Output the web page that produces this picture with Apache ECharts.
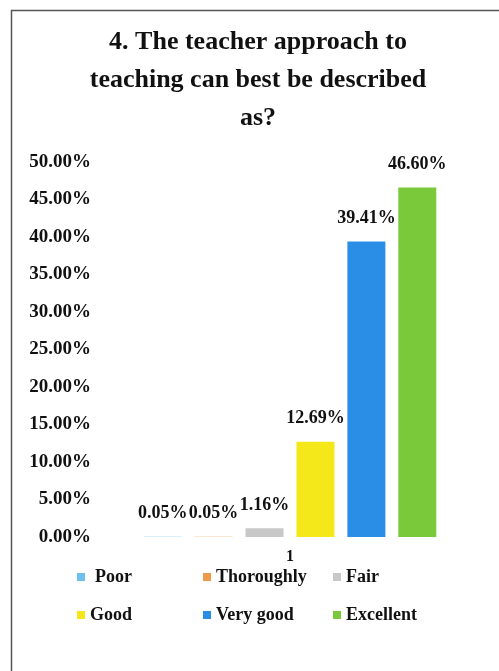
<!DOCTYPE html>
<html>
<head>
<meta charset="utf-8">
<title>Teacher approach</title>
<script src="https://cdn.jsdelivr.net/npm/echarts@6/dist/echarts.min.js"></script>
<style>
  html, body { margin: 0; padding: 0; background: #fff; }
  #chart { width: 499px; height: 671px; }
</style>
</head>
<body>
<div id="chart"></div>
<script>
var categories = ['1'];
var seriesNames = ['Poor', 'Thoroughly', 'Fair', 'Good', 'Very good', 'Excellent'];
var seriesValues = [0.05, 0.05, 1.16, 12.69, 39.41, 46.60];
var seriesColors = ['#6cc0ee', '#ec9a4a', '#c8c8c8', '#f5e81a', '#2a8ee6', '#7ac93a'];
var yTicks = [0, 5, 10, 15, 20, 25, 30, 35, 40, 45, 50];
var titleText = '4. The teacher approach to\nteaching can best be described\nas?';

var chartDom = document.getElementById('chart');
var myChart = echarts.init(chartDom);

var font = 'Liberation Serif';

var series = seriesNames.map(function (name, i) {
  return {
    name: name,
    type: 'bar',
    barWidth: 38,
    barGap: '34%',
    itemStyle: { color: seriesColors[i] },
    data: [seriesValues[i]],
    label: {
      show: true,
      position: 'top',
      distance: 14,
      fontFamily: font,
      fontWeight: 'bold',
      fontSize: 18,
      color: '#111',
      formatter: function (p) { return p.value.toFixed(2) + '%'; }
    }
  };
});

// legend laid out as a 3 x 2 grid, one legend per cell
var legendCols = [77, 203, 333];
var legendRows = [568, 606];
var legends = seriesNames.map(function (name, i) {
  return {
    data: [name],
    left: legendCols[i % 3],
    top: legendRows[Math.floor(i / 3)],
    padding: 0,
    icon: 'rect',
    itemWidth: 8,
    itemHeight: 8,
    textStyle: {
      fontFamily: font,
      fontWeight: 'bold',
      fontSize: 18,
      color: '#111',
      padding: [0, 0, 0, i === 0 ? 5 : 0]
    }
  };
});

var option = {
  backgroundColor: '#fff',
  animation: false,
  graphic: [
    {
      type: 'rect',
      shape: { x: 11.5, y: 10.5, width: 600, height: 800 },
      style: { fill: 'none', stroke: '#555', lineWidth: 1.5 },
      silent: true
    },
    {
      // title, centred inside the bordered box rather than the page
      type: 'text',
      x: 258,
      y: 23,
      silent: true,
      style: {
        text: titleText,
        align: 'center',
        verticalAlign: 'top',
        fontFamily: font,
        fontWeight: 'bold',
        fontSize: 26,
        lineHeight: 38,
        fill: '#111'
      }
    }
  ],
  legend: legends,
  grid: { left: 100, right: 19, top: 162, bottom: 134, containLabel: false },
  xAxis: {
    type: 'category',
    data: categories,
    axisLine: { show: false },
    axisTick: { show: false },
    axisLabel: {
      margin: 12,
      fontFamily: font,
      fontWeight: 'bold',
      fontSize: 16,
      color: '#111'
    }
  },
  yAxis: {
    type: 'value',
    min: yTicks[0],
    max: yTicks[yTicks.length - 1],
    interval: yTicks[1] - yTicks[0],
    splitLine: { show: false },
    axisLine: { show: false },
    axisTick: { show: false },
    axisLabel: {
      margin: 9,
      fontFamily: font,
      fontWeight: 'bold',
      fontSize: 19,
      color: '#111',
      formatter: function (v) { return v.toFixed(2) + '%'; }
    }
  },
  series: series
};

option && myChart.setOption(option);
</script>
</body>
</html>
